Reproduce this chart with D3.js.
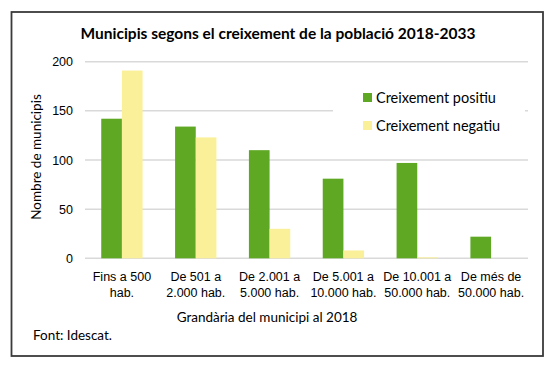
<!DOCTYPE html>
<html>
<head>
<meta charset="utf-8">
<script src="https://cdn.jsdelivr.net/npm/d3@7"></script>
<style>
  body { margin: 0; background: #fff; }
  svg { display: block; font-family: Lato, "Open Sans", sans-serif; }
  .grid line { stroke: #d9d9d9; stroke-width: 1.5; }
  .axis-y text { font-size: 12.5px; fill: #000; }
  .axis-x text { font-size: 12.5px; fill: #000; }
</style>
</head>
<body>
<div id="chart"></div>
<script>
// Categories: mida del municipi (two lines each)
var categories = [
  ['Fins a 500', 'hab.'],
  ['De 501 a', '2.000 hab.'],
  ['De 2.001 a', '5.000 hab.'],
  ['De 5.001 a', '10.000 hab.'],
  ['De 10.001 a', '50.000 hab.'],
  ['De més de', '50.000 hab.']
];
var seriesNames = ['Creixement positiu', 'Creixement negatiu'];
var positiu = [142, 134, 110, 81, 97, 22];
var negatiu = [191, 123, 30, 8, 1, 0];
var yTicks = [0, 50, 100, 150, 200];
var colors = ['#5ea823', '#fbf09a'];

(function() {
  'use strict';

  var width = 555, height = 366;
  var plot = {left: 85, right: 528, top: 61.7, bottom: 258.3};

  var svg = d3.select('#chart').append('svg')
      .attr('width', width)
      .attr('height', height);

  // Outer frame
  svg.append('rect')
      .attr('x', 11.5).attr('y', 12)
      .attr('width', 531.5).attr('height', 344)
      .attr('fill', '#fff')
      .attr('stroke', '#3a3a3a')
      .attr('stroke-width', 1.8);

  var keys = categories.map(function(d) { return d.join(' '); });
  var rows = keys.map(function(k, i) {
    return {key: k, lines: categories[i], values: [positiu[i], negatiu[i]]};
  });

  var x0 = d3.scaleBand()
      .domain(keys)
      .range([plot.left, plot.right])
      .paddingInner(0.44)
      .paddingOuter(0.22);

  var x1 = d3.scaleBand()
      .domain([0, 1])
      .range([0, x0.bandwidth()]);

  var y = d3.scaleLinear()
      .domain([0, 200])
      .range([plot.bottom, plot.top]);

  // Gridlines
  svg.append('g')
      .attr('class', 'grid')
      .selectAll('line')
      .data(yTicks)
      .join('line')
      .attr('x1', plot.left)
      .attr('x2', plot.right)
      .attr('y1', function(d) { return y(d); })
      .attr('y2', function(d) { return y(d); });

  // Y axis labels
  var yAxis = d3.axisLeft(y)
      .tickValues(yTicks)
      .tickSize(0)
      .tickPadding(12);

  svg.append('g')
      .attr('class', 'axis-y')
      .attr('transform', 'translate(' + plot.left + ',0)')
      .call(yAxis)
      .call(function(g) { g.select('.domain').remove(); });

  // Bars
  var groups = svg.append('g')
    .selectAll('g')
    .data(rows)
    .join('g')
      .attr('transform', function(d) { return 'translate(' + x0(d.key) + ',0)'; });

  groups.selectAll('rect')
    .data(function(d) { return d.values.map(function(v, i) { return {i: i, v: v}; }); })
    .join('rect')
      .attr('x', function(d) { return x1(d.i); })
      .attr('y', function(d) { return y(d.v); })
      .attr('width', x1.bandwidth())
      .attr('height', function(d) { return y(0) - y(d.v); })
      .attr('fill', function(d) { return colors[d.i]; });

  // X axis labels (two lines)
  var xAxis = d3.axisBottom(x0).tickSize(0).tickPadding(0).tickFormat('');
  var xg = svg.append('g')
      .attr('class', 'axis-x')
      .attr('transform', 'translate(0,' + plot.bottom + ')')
      .call(xAxis);
  xg.select('.domain').remove();
  xg.selectAll('.tick text').remove();
  xg.selectAll('.tick').each(function(k, i) {
    var t = d3.select(this).append('text')
        .attr('text-anchor', 'middle')
        .attr('fill', '#000');
    t.append('tspan').attr('x', 0).attr('y', 23).text(categories[i][0]);
    t.append('tspan').attr('x', 0).attr('y', 39).text(categories[i][1]);
  });

  // Title
  svg.append('text')
      .attr('x', 278)
      .attr('y', 38.5)
      .attr('text-anchor', 'middle')
      .attr('font-size', 15.5)
      .attr('font-weight', 'bold')
      .attr('fill', '#000')
      .text('Municipis segons el creixement de la població 2018-2033');

  // Axis titles
  svg.append('text')
      .attr('transform', 'translate(41,157) rotate(-90)')
      .attr('text-anchor', 'middle')
      .attr('font-size', 13.5)
      .attr('fill', '#000')
      .text('Nombre de municipis');

  svg.append('text')
      .attr('x', 267)
      .attr('y', 322)
      .attr('text-anchor', 'middle')
      .attr('font-size', 13.5)
      .attr('fill', '#000')
      .text('Grandària del municipi al 2018');

  svg.append('text')
      .attr('x', 33)
      .attr('y', 340)
      .attr('font-size', 13.5)
      .attr('fill', '#000')
      .text('Font: Idescat.');

  // Legend (white box hides gridline behind it)
  var legend = svg.append('g');
  legend.append('rect')
      .attr('x', 333).attr('y', 80)
      .attr('width', 192).attr('height', 58)
      .attr('fill', '#fff');

  var items = legend.selectAll('g')
    .data(seriesNames)
    .join('g')
      .attr('transform', function(d, i) { return 'translate(363,' + (97.5 + i * 28) + ')'; });

  items.append('rect')
      .attr('x', 0).attr('y', -4.5)
      .attr('width', 9).attr('height', 9)
      .attr('fill', function(d, i) { return colors[i]; });

  items.append('text')
      .attr('x', 13)
      .attr('dy', '0.35em')
      .attr('font-size', 14.5)
      .attr('fill', '#000')
      .text(function(d) { return d; });
})();
</script>
</body>
</html>
